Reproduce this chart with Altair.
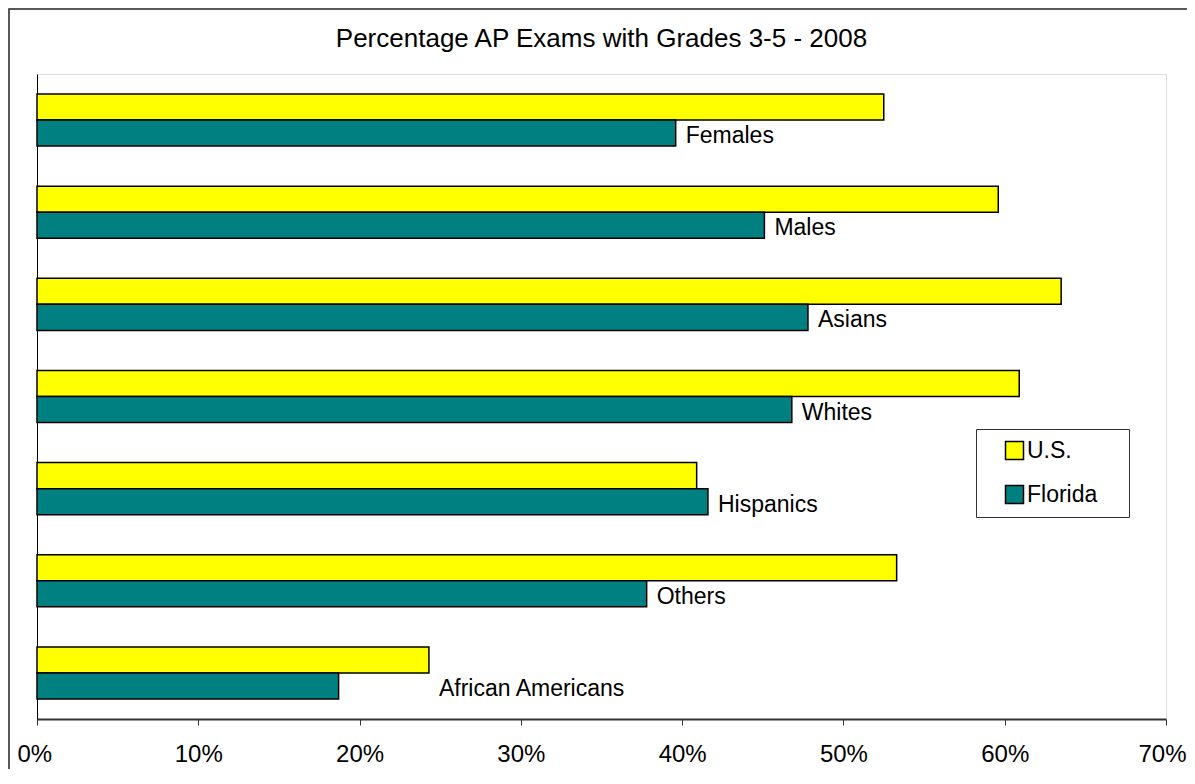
import altair as alt
import pandas as pd

FONT = "Liberation Sans"

categories = ["Females", "Males", "Asians", "Whites", "Hispanics", "Others", "African Americans"]
us_values = [0.525, 0.596, 0.635, 0.609, 0.409, 0.533, 0.243]
florida_values = [0.396, 0.451, 0.478, 0.468, 0.416, 0.378, 0.187]
series_names = ["U.S.", "Florida"]
series_colors = ["#FFFF00", "#008080"]
x_ticks = [0.0, 0.1, 0.2, 0.3, 0.4, 0.5, 0.6, 0.7]
title_text = "Percentage AP Exams with Grades 3-5 - 2008"

rows = []
for c, u, f in zip(categories, us_values, florida_values):
    rows.append({"category": c, "series": series_names[0], "value": u})
    rows.append({"category": c, "series": series_names[1], "value": f})
df = pd.DataFrame(rows)
labels_df = pd.DataFrame({"category": categories, "us": us_values, "florida": florida_values})

W, H = 1129, 645

y_scale = alt.Scale(paddingInner=0.4348, paddingOuter=0.2174)
x_scale = alt.Scale(domain=[0, 0.7], nice=False, zero=True)

bars = alt.Chart(df).mark_bar(stroke="#000", strokeWidth=1.5).encode(
    x=alt.X("value:Q", scale=x_scale, title=None,
            axis=alt.Axis(values=x_ticks, format=".0%", grid=False, labelFontSize=24,
                          labelFont=FONT, labelColor="#000", labelPadding=17,
                          labelFlush=True, labelFlushOffset=20,
                          domainColor="#333", domainWidth=2, tickColor="#333",
                          tickSize=6, tickWidth=1)),
    y=alt.Y("category:N", sort=categories, scale=y_scale, title=None,
            axis=alt.Axis(labels=False, ticks=False, domainColor="#000", domainWidth=1)),
    yOffset=alt.YOffset("series:N", sort=series_names,
                        scale=alt.Scale(paddingInner=0, paddingOuter=0)),
    color=alt.Color("series:N", sort=series_names,
                    scale=alt.Scale(domain=series_names, range=series_colors),
                    legend=alt.Legend(title=".", titleOrient="right", titleOpacity=0,
                                      titleFontSize=23, titlePadding=15,
                                      orient="none", legendX=939, legendY=355,
                                      symbolType="square", symbolSize=324,
                                      symbolStrokeColor="#000", symbolStrokeWidth=1.5,
                                      labelFontSize=23, labelFont=FONT, labelColor="#000",
                                      strokeColor="#333", fillColor="#FFFFFF",
                                      padding=10, rowPadding=19, symbolOffset=17,
                                      labelOffset=1)),
)

text = alt.Chart(labels_df).transform_calculate(
    pos="datum.category == 'African Americans' ? datum.us : datum.florida",
    series="'Florida'",
).mark_text(align="left", baseline="middle", dx=10, dy=3, fontSize=23, font=FONT,
            color="#000").encode(
    x=alt.X("pos:Q", scale=x_scale),
    y=alt.Y("category:N", sort=categories, scale=y_scale),
    yOffset=alt.YOffset("series:N", sort=series_names),
    text="category:N",
)

frame = alt.Chart(pd.DataFrame({"a": [0]})).mark_rect(
    fillOpacity=0, stroke="#222", strokeWidth=1.5
).encode(
    x=alt.value(-28), x2=alt.value(W + 200), y=alt.value(-65), y2=alt.value(H + 200)
)

chart = alt.layer(frame, bars, text).properties(
    width=W, height=H,
    title=alt.TitleParams(title_text, fontSize=26, font=FONT, fontWeight="normal",
                          color="#000", anchor="middle", offset=-44),
    autosize=alt.AutoSizeParams(type="none"),
    padding={"left": 29, "top": 66, "right": 21, "bottom": 50},
).configure_view(stroke="#555", strokeWidth=1).configure(background="#FFFFFF")

chart.save("out.html", embed_options={"renderer": "svg", "actions": False})
